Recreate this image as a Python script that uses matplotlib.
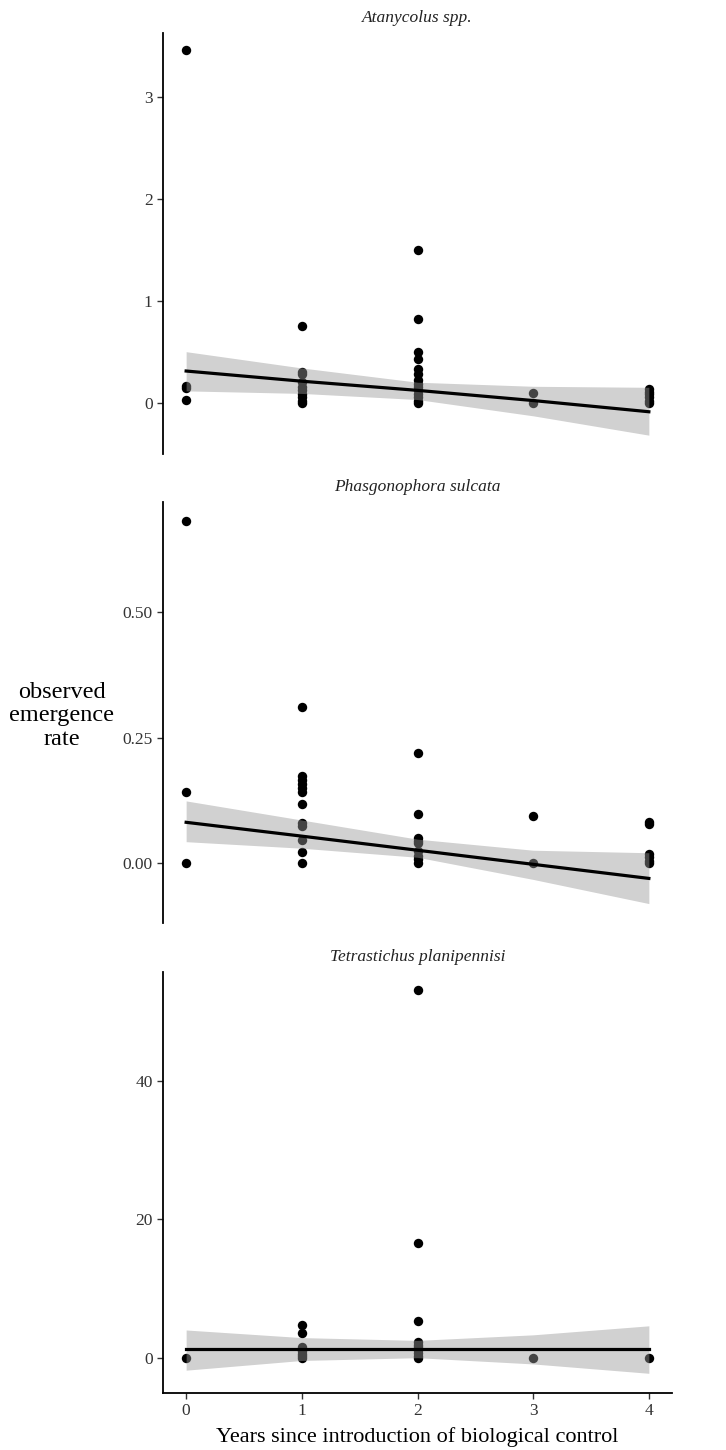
import matplotlib.pyplot as plt
import numpy as np

# years since introduction, per panel
titles = ["Atanycolus spp.", "Phasgonophora sulcata", "Tetrastichus planipennisi"]

atan_x = [0, 0, 0, 0,
          1, 1, 1, 1, 1, 1, 1, 1, 1, 1,
          2, 2, 2, 2, 2, 2, 2, 2, 2, 2, 2, 2, 2, 2,
          3, 3,
          4, 4, 4, 4, 4, 4]
atan_y = [3.46, 0.16, 0.14, 0.03,
          0.75, 0.30, 0.28, 0.20, 0.15, 0.12, 0.08, 0.05, 0.02, 0.0,
          1.50, 0.82, 0.50, 0.43, 0.33, 0.28, 0.22, 0.18, 0.15, 0.12, 0.08, 0.05, 0.02, 0.0,
          0.09, 0.0,
          0.13, 0.10, 0.08, 0.05, 0.02, 0.0]

phas_x = [0, 0, 0,
          1, 1, 1, 1, 1, 1, 1, 1, 1, 1, 1, 1,
          2, 2, 2, 2, 2, 2, 2, 2, 2,
          3, 3,
          4, 4, 4, 4, 4, 4]
phas_y = [0.681, 0.142, 0.0,
          0.31, 0.173, 0.165, 0.157, 0.149, 0.142, 0.118, 0.081, 0.074, 0.046, 0.022, 0.0,
          0.22, 0.098, 0.05, 0.045, 0.04, 0.025, 0.015, 0.008, 0.0,
          0.095, 0.0,
          0.083, 0.079, 0.018, 0.012, 0.004, 0.0]

tetr_x = [0,
          1, 1, 1, 1, 1, 1, 1, 1,
          2, 2, 2, 2, 2, 2, 2, 2, 2, 2,
          3,
          4]
tetr_y = [0.0,
          4.7, 3.6, 1.5, 1.2, 0.9, 0.6, 0.3, 0.0,
          53.0, 16.5, 5.3, 2.3, 1.9, 1.5, 1.1, 0.7, 0.3, 0.0,
          0.0,
          0.0]

# fitted line and confidence band read at x = 0..4
fit_x = [0, 1, 2, 3, 4]
atan_fit = [0.31, 0.21, 0.12, 0.02, -0.09]
atan_lo = [0.115, 0.09, 0.03, -0.13, -0.32]
atan_hi = [0.50, 0.34, 0.20, 0.16, 0.15]
phas_fit = [0.0815, 0.054, 0.026, -0.002, -0.030]
phas_lo = [0.043, 0.030, 0.012, -0.032, -0.080]
phas_hi = [0.124, 0.086, 0.048, 0.026, 0.021]
tetr_fit = [1.25, 1.25, 1.25, 1.25, 1.25]
tetr_lo = [-1.8, -0.4, 0.0, -0.9, -2.25]
tetr_hi = [4.0, 2.9, 2.5, 3.3, 4.6]

panels = [
    (atan_x, atan_y, atan_fit, atan_lo, atan_hi, (-0.505, 3.63), [0, 1, 2, 3], ["0", "1", "2", "3"]),
    (phas_x, phas_y, phas_fit, phas_lo, phas_hi, (-0.118, 0.7186), [0, 0.25, 0.5], ["0.00", "0.25", "0.50"]),
    (tetr_x, tetr_y, tetr_fit, tetr_lo, tetr_hi, (-5.05, 55.7), [0, 20, 40], ["0", "20", "40"]),
]

plt.rcParams['font.family'] = ['Liberation Serif', 'DejaVu Serif']

W, H = 726, 1450
fig = plt.figure(figsize=(W / 100, H / 100), dpi=100)

left = 163 / W
width = (672 - 163) / W
tops = [33, 501.7, 971.7]
ph = 421

for i, (px, py, fy, lo, hi, ylim, yt, ytl) in enumerate(panels):
    ax = fig.add_axes([left, (H - tops[i] - ph) / H, width, ph / H])
    ax.scatter(px, py, s=46, color='black', zorder=2, linewidths=0)
    ax.fill_between(fit_x, lo, hi, color='#999999', alpha=0.45, linewidth=0, zorder=3)
    ax.plot(fit_x, fy, color='black', linewidth=2.3, zorder=4)
    ax.set_xlim(-0.2, 4.2)
    ax.set_ylim(*ylim)
    ax.set_yticks(yt)
    ax.set_yticklabels(ytl)
    ax.set_title(titles[i], fontstyle='italic', fontsize=12.5, pad=8, color='#222222')
    for s in ['top', 'right']:
        ax.spines[s].set_visible(False)
    ax.spines['left'].set_linewidth(1.3)
    ax.tick_params(axis='y', labelsize=12.5, length=4, width=1, colors='#333333', labelcolor='#333333')
    if i < 2:
        ax.spines['bottom'].set_visible(False)
        ax.set_xticks([])
    else:
        ax.spines['bottom'].set_linewidth(1.3)
        ax.set_xticks([0, 1, 2, 3, 4])
        ax.tick_params(axis='x', labelsize=12.5, length=4, width=1, colors='#333333', labelcolor='#333333')
        ax.set_xlabel("Years since introduction of biological control", fontsize=16, labelpad=6)

fig.text(62 / W, 1 - 716 / H, "observed\nemergence\nrate", ha='center', va='center',
         fontsize=17.5, linespacing=1.15)

fig.savefig("out.png", dpi=100)
